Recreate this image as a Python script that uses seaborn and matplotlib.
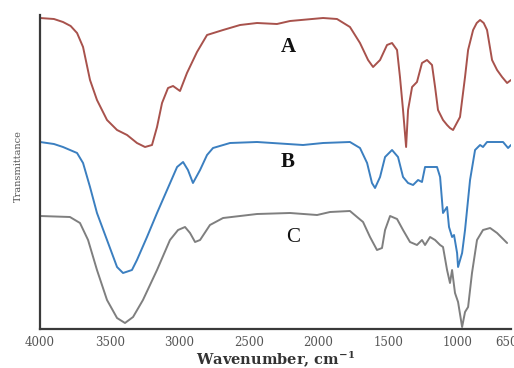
import numpy as np
import pandas as pd
import matplotlib
matplotlib.use("Agg")
import matplotlib.pyplot as plt
import seaborn as sns

# ---- data (wavenumber in cm-1, transmittance in arbitrary offset units) ----
wn_A = [4000, 3900, 3835, 3780, 3734, 3691, 3641, 3591, 3519, 3447, 3375, 3304,
        3246, 3196, 3160, 3124, 3081, 3045, 2995, 2945, 2873, 2801,
        2686, 2564, 2442, 2299, 2205, 1968, 1868, 1775, 1703, 1645,
        1609, 1559, 1509, 1473, 1437, 1416, 1394, 1372, 1358, 1329,
        1294, 1258, 1222, 1186, 1164, 1143, 1107, 1078, 1057, 1035,
        985, 949, 927, 891, 865, 841, 815, 791, 755, 719, 683, 647, 619]
T_A = [311, 310, 307, 303, 296, 282, 249, 229, 209, 199, 194, 186,
       182, 184, 202, 226, 241, 243, 238, 256, 277, 294,
       299, 304, 306, 305, 308, 311, 310, 302, 286, 269,
       262, 269, 284, 286, 279, 252, 219, 182, 219, 242,
       247, 266, 269, 264, 242, 219, 209, 204, 201, 199,
       212, 252, 279, 299, 306, 309, 306, 299, 269, 259, 252, 246, 249]

wn_B = [4000, 3900, 3835, 3734, 3691, 3641, 3591, 3519, 3447, 3404, 3340,
        3304, 3232, 3160, 3088, 3016, 2973, 2938, 2902, 2851, 2801,
        2758, 2636, 2442, 2112, 1968, 1775, 1703, 1652, 1617, 1595,
        1559, 1523, 1473, 1430, 1394, 1358, 1322, 1286, 1258, 1236,
        1186, 1150, 1128, 1107, 1078, 1064, 1042, 1028, 1006, 999,
        970, 949, 913, 877, 841, 820, 791, 676, 640, 619]
T_B = [187, 185, 182, 176, 166, 142, 116, 89, 62, 56, 59,
       69, 92, 116, 139, 162, 167, 159, 146, 159, 174,
       181, 186, 187, 184, 186, 187, 181, 166, 146, 141,
       152, 172, 179, 172, 152, 146, 144, 149, 147, 162,
       162, 162, 152, 116, 122, 102, 92, 94, 76, 62,
       76, 99, 149, 179, 184, 182, 187, 187, 181, 184]

wn_C = [4000, 3785, 3713, 3655, 3591, 3519, 3447, 3390, 3332, 3261,
        3160, 3067, 3009, 2959, 2923, 2887, 2851, 2780, 2686, 2442,
        2205, 2011, 1918, 1775, 1724, 1681, 1631, 1581, 1545, 1523,
        1487, 1437, 1394, 1344, 1294, 1258, 1236, 1200, 1164, 1128,
        1107, 1078, 1057, 1042, 1021, 999, 970, 949, 927, 899,
        863, 820, 769, 719, 647]
T_C = [113, 112, 106, 89, 59, 29, 11, 6, 12, 29,
       59, 89, 99, 102, 96, 87, 89, 104, 111, 115,
       116, 114, 117, 118, 112, 107, 92, 79, 81, 99,
       113, 110, 99, 87, 84, 89, 84, 92, 89, 84,
       82, 59, 46, 59, 36, 27, 2, 17, 22, 56,
       89, 99, 101, 96, 86]

series_names = ["A", "B", "C"]
series_colors = ["#a8524c", "#3b7fc0", "#7f7f7f"]
label_pos_wn = [2220, 2220, 2184]
label_pos_T = [282, 167, 91]
label_weight = ["bold", "bold", "normal"]

x_ticks = [4000, 3500, 3000, 2500, 2000, 1500, 1000, 650]
x_tick_labels = ["4000", "3500", "3000", "2500", "2000", "1500", "1000", "650"]

df = pd.concat([
    pd.DataFrame({"wn": wn_A, "T": T_A, "sample": "A"}),
    pd.DataFrame({"wn": wn_B, "T": T_B, "sample": "B"}),
    pd.DataFrame({"wn": wn_C, "T": T_C, "sample": "C"}),
], ignore_index=True)

sns.set_style("white")
plt.rcParams["font.family"] = ["DejaVu Serif"]
plt.rcParams["mathtext.fontset"] = "dejavuserif"

fig = plt.figure(figsize=(5.14, 3.68), dpi=100)
ax = fig.add_axes([40 / 514, 39 / 368, 471 / 514, 314 / 368])

sns.lineplot(data=df, x="wn", y="T", hue="sample", palette=series_colors,
             hue_order=series_names, estimator=None, sort=True, legend=False,
             linewidth=1.4, ax=ax)

ax.set_xlim(4000, 619)
ax.set_ylim(0, 314)
ax.set_yticks([])
ax.set_xticks(x_ticks)
ax.set_xticklabels(x_tick_labels, fontsize=8.5, color="#555555")
ax.tick_params(axis="x", direction="in", length=3, width=1.5, color="#333333", pad=5)

for side in ["top", "right"]:
    ax.spines[side].set_visible(False)
for side in ["left", "bottom"]:
    ax.spines[side].set_color("#3a3a3a")
    ax.spines[side].set_linewidth(1.6)

ax.set_xlabel("Wavenumber, cm$^{\\mathbf{-1}}$", fontsize=10.5, fontweight="bold",
              color="#333333", labelpad=0)
ax.set_ylabel("Transmittance", fontsize=7, color="#555555")
ax.yaxis.set_label_coords(-17 / 471, 0.52)

for name, xw, yt, w in zip(series_names, label_pos_wn, label_pos_T, label_weight):
    ax.text(xw, yt, name, fontsize=15, fontweight=w, ha="center", va="center",
            color="#111111", family="Liberation Serif")

fig.savefig("out.png", dpi=100)
